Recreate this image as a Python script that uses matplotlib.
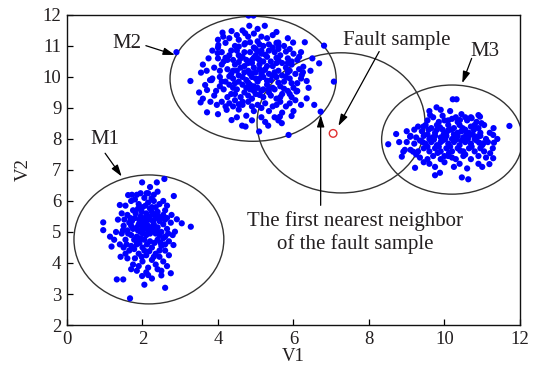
import matplotlib
matplotlib.use("Agg")
import matplotlib.pyplot as plt
from matplotlib.patches import Ellipse

plt.rcParams['font.family'] = ['Liberation Serif', 'DejaVu Serif']

# ---------------- data ----------------
M1_points = [
    (2.05,5.10),(2.15,5.20),(1.95,5.00),(2.25,5.05),(2.10,4.90),(2.00,5.30),(2.20,5.40),(1.90,5.25),(2.30,5.25),(2.35,4.95),
    (1.85,4.85),(2.05,4.75),(2.20,4.70),(1.95,5.50),(2.10,5.60),(2.30,5.55),(1.80,5.45),(1.75,5.10),(2.40,5.15),(2.45,5.35),
    (1.70,4.90),(1.85,4.60),(2.00,4.50),(2.25,4.50),(2.40,4.75),(2.50,5.00),(2.55,5.25),(1.65,5.30),(1.60,5.05),(1.75,5.70),
    (2.00,5.80),(2.25,5.80),(2.40,5.65),(1.90,5.90),(2.15,5.95),(1.55,4.75),(1.70,4.55),(1.90,4.30),(2.10,4.25),(2.35,4.30),
    (2.50,4.55),(2.60,4.85),(2.65,5.10),(2.55,5.55),(1.50,5.20),(1.45,4.95),(1.60,5.55),(1.80,6.05),(2.05,6.10),(2.30,6.00),
    (1.65,4.40),(1.80,4.15),(2.00,4.05),(2.25,4.10),(2.45,4.20),(2.60,4.40),(2.70,4.70),(2.75,5.30),(1.40,4.60),(1.35,5.40),
    (1.55,5.85),(1.95,6.25),(2.45,5.90),(2.60,5.70),(1.75,3.95),(2.15,3.85),(2.35,3.95),(1.60,4.15),(2.55,4.05),(2.70,4.25),
    (1.30,5.00),(1.45,5.60),(2.80,4.90),(2.05,5.45),(2.15,5.05),(1.95,4.80),(2.20,4.95),(2.00,5.15),(2.10,5.35),(1.85,5.15),
    (2.35,5.45),(1.70,5.20),(2.25,5.65),(1.85,4.70),(2.45,4.90),(2.05,4.40),(1.50,4.50),(2.65,5.45),(1.55,4.30),(2.40,3.80),
    (1.85,3.75),(2.10,3.70),(2.50,3.75),(1.70,3.80),(2.30,6.20),(1.70,6.00),(2.55,6.00),
    (1.88,5.05),(2.02,4.95),(2.12,5.12),(2.28,5.15),(2.38,5.05),(1.92,5.38),(2.08,5.25),(2.18,5.50),(2.28,5.35),(1.98,5.65),
    (2.20,5.75),(1.82,5.60),(1.68,5.45),(1.62,4.95),(1.78,4.75),(1.92,4.65),(2.12,4.60),(2.32,4.65),(2.48,4.65),(2.55,4.80),
    (2.42,5.50),(2.50,5.45),(2.35,5.80),(1.88,5.75),(2.08,5.85),(1.72,5.35),(1.78,4.45),(1.98,4.20),(2.18,4.38),(2.30,4.20),
    (2.45,4.40),(2.60,4.60),(2.68,4.95),(2.60,5.40),(1.52,5.40),(1.48,5.05),(1.58,4.60),(2.65,5.85),(1.85,6.20),(2.15,6.25),
    (2.40,6.30),(2.20,6.45),(1.72,6.20),(2.50,3.60),(2.25,3.50),(1.90,3.90),(2.05,3.30),(2.65,3.90),(1.42,4.20),(1.25,4.75),
    (1.99,6.60),(2.38,6.60),(2.58,6.71),(2.83,6.16),(0.96,5.31),(0.96,5.06),(3.04,5.28),(1.32,3.47),(1.49,3.47),
    (1.67,2.86),(2.60,3.20),(1.99,3.58),(2.15,3.61),(2.75,3.67),(1.18,4.53),(1.14,4.85),(2.82,4.58),(2.86,5.01),
    (2.91,5.41),(2.77,5.55),(1.40,5.87),(1.62,6.19),(2.11,6.25),(2.24,6.09),(3.28,5.17),
]

M2_points = [
    (4.30,11.25),(4.55,11.20),(4.80,11.30),(5.05,11.15),(5.30,11.25),(5.55,11.10),(4.45,11.00),(4.70,11.05),(4.95,10.95),
    (5.20,11.00),(5.45,10.95),(5.75,11.00),(4.20,11.10),(5.90,10.90),
    (4.10,10.80),(4.30,10.70),(4.50,10.85),(4.65,10.65),(4.85,10.80),(5.00,10.70),(5.15,10.85),(5.30,10.65),(5.50,10.80),
    (5.65,10.70),(5.85,10.60),(6.00,10.75),(4.00,10.60),(4.40,10.55),(4.75,10.55),(5.10,10.55),(5.40,10.50),(5.70,10.45),(6.10,10.55),
    (3.90,10.30),(4.10,10.40),(4.25,10.25),(4.45,10.40),(4.60,10.30),(4.80,10.45),(4.95,10.30),(5.10,10.40),(5.25,10.25),
    (5.45,10.35),(5.60,10.20),(5.80,10.30),(5.95,10.40),(6.15,10.25),(4.35,10.10),(4.70,10.15),(5.00,10.15),(5.35,10.10),
    (5.70,10.05),(6.05,10.10),
    (3.85,9.95),(4.05,10.00),(4.20,9.85),(4.40,9.95),(4.55,10.05),(4.75,9.90),(4.90,10.00),(5.05,9.85),(5.20,10.00),
    (5.40,9.90),(5.55,10.00),(5.75,9.85),(5.90,9.95),(6.10,9.80),(4.30,9.75),(4.65,9.75),(4.95,9.70),(5.30,9.75),(5.65,9.70),(6.00,9.65),
    (3.95,9.55),(4.15,9.60),(4.35,9.45),(4.50,9.60),(4.70,9.50),(4.85,9.60),(5.00,9.45),(5.15,9.55),(5.35,9.50),(5.50,9.60),
    (5.70,9.45),(5.85,9.55),(4.60,9.35),(4.90,9.30),(5.20,9.35),(5.55,9.30),(5.95,9.35),
    (4.10,9.20),(4.30,9.15),(4.45,9.25),(4.65,9.10),(4.80,9.20),(5.05,9.10),(5.25,9.15),(5.45,9.05),(5.65,9.20),(5.80,9.05),
    (4.55,8.95),(4.95,8.90),(5.35,8.90),(5.70,8.85),(4.75,8.75),(5.15,8.70),(5.50,8.70),
    (4.80,10.20),(4.90,10.55),(5.05,10.60),(5.20,10.20),(4.60,10.60),(4.85,9.75),(5.10,9.95),(4.70,10.35),(5.30,10.35),
    (5.00,10.90),(4.55,9.85),(5.45,9.65),(4.95,9.55),(5.20,9.60),(4.65,9.20),(5.15,10.75),(4.40,10.20),(5.60,10.55),
    (4.25,10.55),(5.85,10.15),
    (4.20,10.62),(4.55,10.70),(4.95,10.62),(5.25,10.72),(5.55,10.62),(5.95,10.50),
    (4.15,10.50),(4.55,10.48),(4.90,10.45),(5.20,10.50),(5.55,10.45),(5.85,10.45),
    (4.05,10.20),(4.50,10.20),(4.90,10.12),(5.10,10.25),(5.50,10.15),(5.90,10.20),(6.25,10.15),
    (4.30,10.02),(4.65,10.00),(4.85,10.10),(5.15,10.10),(5.45,10.05),(5.80,10.00),(6.20,9.95),
    (4.10,9.85),(4.45,9.80),(4.80,9.82),(5.00,9.95),(5.30,9.88),(5.60,9.82),(5.95,9.80),
    (4.05,9.70),(4.40,9.65),(4.75,9.65),(5.05,9.65),(5.35,9.62),(5.75,9.62),(6.10,9.55),
    (4.25,9.35),(4.45,9.45),(4.80,9.40),(5.10,9.42),(5.40,9.40),(5.65,9.35),(5.90,9.45),
    (4.20,9.05),(4.40,9.05),(4.55,9.12),(4.90,9.05),(5.15,9.00),(5.55,9.10),(5.90,9.15),(6.05,9.25),
    (4.35,10.85),(4.70,10.80),(5.05,10.82),(5.35,10.85),(5.60,10.90),(5.80,10.82),
    (4.00,10.95),(4.55,10.98),(4.85,11.12),(5.10,11.05),(5.35,11.05),(5.60,11.00),
    (4.50,11.35),(4.95,11.40),(5.15,11.30),(5.45,11.35),(4.65,11.50),(5.05,11.55),
    (3.60,10.40),(3.75,10.60),(3.50,9.50),(3.60,9.30),(3.80,9.20),(4.00,8.80),(4.50,8.70),(4.90,8.60),(5.25,8.55),
    (5.60,8.60),(6.00,8.90),(6.20,9.10),(6.40,9.65),(6.45,10.20),(6.50,10.60),(6.20,10.80),(5.85,11.25),(5.55,11.45),
    (4.00,11.20),(3.85,10.85),(3.70,10.20),(3.90,9.40),(6.55,9.10),(6.15,10.65),
    (2.90,10.80),(3.27,9.87),(3.55,10.14),(3.54,9.18),(3.71,8.86),(4.81,11.98),(4.94,11.98),(4.83,11.65),(5.24,11.65),
    (6.30,11.12),(6.81,11.01),(6.68,10.44),(7.07,9.85),(6.35,9.87),(6.35,9.31),(6.72,8.88),(5.87,8.13),(5.09,8.24),
    (4.64,8.43),(4.73,8.40),(4.36,8.61),(5.33,8.43),(5.64,8.72),(4.12,11.43),(4.36,11.48),(4.72,11.41),(3.99,10.77),
    (5.99,11.11),(5.60,11.11),(4.23,8.94),(3.97,9.10),(3.83,9.90),(3.71,9.58),(6.08,9.53),(6.22,10.06),(6.26,10.33),
    (5.95,8.74),(5.69,8.51),(3.66,9.74),(3.79,9.90),(4.14,11.30),(4.01,11.03),(4.72,11.09),
]

M3_points = [
    (9.70,8.70),(9.95,8.75),(10.20,8.65),(10.45,8.80),(10.70,8.70),(9.85,8.55),(10.10,8.60),(10.35,8.55),(10.60,8.60),(10.85,8.55),
    (9.30,8.40),(9.50,8.45),(9.65,8.35),(9.80,8.45),(9.95,8.30),(10.10,8.45),(10.25,8.35),(10.40,8.45),(10.55,8.30),
    (10.70,8.40),(10.90,8.35),(11.05,8.45),(9.40,8.25),(9.75,8.20),(10.05,8.20),(10.35,8.20),(10.65,8.20),(10.95,8.20),
    (9.10,8.10),(9.25,8.05),(9.45,8.10),(9.60,8.00),(9.75,8.10),(9.90,8.05),(10.05,8.10),(10.20,8.00),(10.35,8.10),
    (10.50,8.05),(10.65,8.10),(10.80,8.00),(10.95,8.10),(11.10,8.00),(9.55,8.15),(10.25,8.15),(10.75,8.15),
    (9.00,7.90),(9.20,7.85),(9.35,7.95),(9.50,7.85),(9.65,7.90),(9.80,7.80),(9.95,7.95),(10.10,7.85),(10.25,7.90),
    (10.40,7.80),(10.55,7.90),(10.70,7.85),(10.85,7.95),(11.00,7.80),(11.15,7.90),(9.90,7.90),(10.45,7.95),
    (9.10,7.65),(9.30,7.60),(9.45,7.70),(9.60,7.60),(9.75,7.70),(9.90,7.60),(10.05,7.70),(10.20,7.60),(10.35,7.70),
    (10.50,7.60),(10.65,7.70),(10.80,7.60),(10.95,7.70),(9.85,7.75),(10.15,7.75),
    (9.35,7.40),(9.55,7.35),(9.70,7.45),(9.90,7.35),(10.10,7.45),(10.30,7.35),(10.50,7.45),(10.70,7.35),(10.90,7.45),
    (10.00,7.25),(10.40,7.20),(9.60,7.20),
    (9.58,8.30),(9.88,8.38),(10.18,8.30),(10.48,8.35),(10.78,8.30),(9.68,8.05),(9.98,8.15),(10.28,8.05),(10.58,8.15),(10.88,8.08),
    (9.42,7.90),(9.72,7.98),(10.02,8.00),(10.32,7.98),(10.62,8.00),(10.92,7.88),(9.55,7.75),(9.82,7.55),(10.12,7.55),(10.42,7.62),
    (10.72,7.75),(11.05,7.60),(10.00,7.45),(10.55,7.50),(10.20,7.40),(9.80,8.30),(10.10,8.28),(10.45,8.25),(10.80,8.45),(10.30,8.70),
    (9.55,8.60),(10.00,8.60),(10.55,8.70),(11.20,8.20),(11.30,8.35),(11.40,8.00),(11.10,7.40),(8.80,7.90),(9.00,8.25),(9.20,8.30),
    (8.95,7.65),(9.25,7.50),(9.45,7.25),(9.75,7.10),(10.25,7.10),(10.60,7.05),(10.90,7.20),(11.00,7.10),(10.15,8.90),(9.60,8.90),
    (10.22,9.28),(10.32,9.28),(9.79,9.02),(9.90,8.94),(8.72,8.16),(8.51,7.83),(8.87,7.43),(9.22,7.07),(9.75,6.83),
    (9.88,6.91),(10.46,6.76),(10.63,6.70),(11.19,7.19),(11.72,8.42),(12.07,8.48),(11.28,7.70),(11.31,7.88),(10.94,8.72),
    (10.72,8.67),(10.41,8.61),(9.17,7.59),(9.09,8.07),(8.91,7.59),(9.62,8.77),(9.44,8.40),(11.29,8.13),(11.21,7.54),
    (11.29,7.38),(10.90,8.77),(10.98,8.51),(11.03,7.86),
]

fault_sample = (7.05, 8.18)

# ellipses: (center x, center y, width, height)
ellipse_M1 = (2.17, 4.76, 3.97, 4.16)
ellipse_M2 = (4.93, 9.94, 4.40, 4.03)
ellipse_M3 = (10.20, 7.98, 3.73, 3.52)
ellipse_fault = (7.26, 8.52, 4.45, 4.52)

x_ticks = [0, 2, 4, 6, 8, 10, 12]
y_ticks = [2, 3, 4, 5, 6, 7, 8, 9, 10, 11, 12]

# ---------------- plotting ----------------
fig = plt.figure(figsize=(5.38, 3.74), dpi=100)
ax = fig.add_axes([0.1245, 0.131, 0.842, 0.829])

for e in (ellipse_M1, ellipse_M2, ellipse_M3, ellipse_fault):
    ax.add_patch(Ellipse((e[0], e[1]), e[2], e[3], fill=False,
                         edgecolor='#333333', linewidth=1.0, zorder=1))

for pts in (M1_points, M2_points, M3_points):
    xs = [p[0] for p in pts]
    ys = [p[1] for p in pts]
    ax.scatter(xs, ys, s=20, color='#0000ff', edgecolors='none', zorder=2)

ax.scatter([fault_sample[0]], [fault_sample[1]], s=30, facecolors='none',
           edgecolors='#e03030', linewidths=1.0, zorder=3)

txtc = '#231f20'
fs = 15
arrow = dict(arrowstyle='-|>,head_length=0.7,head_width=0.22', color='black',
             lw=0.9, shrinkA=0, shrinkB=0)

ax.text(1.58, 11.09, 'M2', fontsize=fs, color=txtc, ha='center', va='center')
ax.annotate('', xy=(2.86, 10.71), xytext=(2.09, 11.01), arrowprops=arrow)

ax.text(1.01, 7.97, 'M1', fontsize=fs, color=txtc, ha='center', va='center')
ax.annotate('', xy=(1.45, 6.79), xytext=(1.01, 7.54), arrowprops=arrow)

ax.text(11.07, 10.82, 'M3', fontsize=fs, color=txtc, ha='center', va='center')
ax.annotate('', xy=(10.47, 9.80), xytext=(10.72, 10.60), arrowprops=arrow)

ax.text(8.73, 11.17, 'Fault sample', fontsize=fs, color=txtc, ha='center', va='center')
ax.annotate('', xy=(7.19, 8.42), xytext=(8.27, 10.82), arrowprops=arrow)

ax.text(7.63, 4.98, 'The first nearest neighbor\nof the fault sample', fontsize=fs,
        color=txtc, ha='center', va='center', linespacing=1.2)
ax.annotate('', xy=(6.72, 8.77), xytext=(6.72, 5.86), arrowprops=arrow)

ax.set_xlim(0, 12)
ax.set_ylim(2, 12)
ax.set_xticks(x_ticks)
ax.set_yticks(y_ticks)
ax.tick_params(direction='in', length=4, width=0.9, labelsize=13.5, colors='black',
               labelcolor=txtc, top=False, right=False, pad=4)
for s in ax.spines.values():
    s.set_linewidth(1.0)
    s.set_color('#111111')
ax.set_xlabel('V1', fontsize=13.5, color=txtc, labelpad=0)
ax.set_ylabel('V2', fontsize=13.5, color=txtc, labelpad=8)

fig.savefig('out.png', dpi=100)
